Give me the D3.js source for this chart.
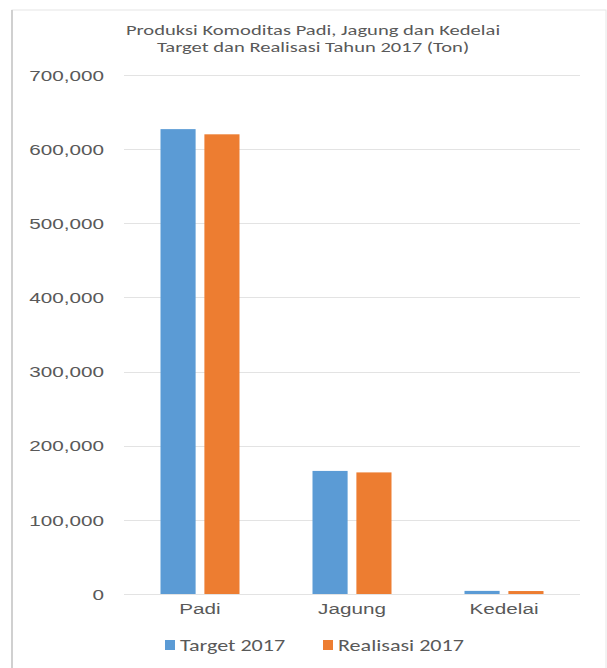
<!DOCTYPE html>
<html>
<head>
<meta charset="utf-8">
<script src="https://cdn.jsdelivr.net/npm/d3@7"></script>
<style>
  html, body { margin: 0; padding: 0; background: #fff; }
  svg { display: block; font-family: Carlito, Calibri, "Open Sans", sans-serif; }
</style>
</head>
<body>
<svg id="chart" width="607" height="668"></svg>
<script>
const categories = ["Padi", "Jagung", "Kedelai"];
const seriesNames = ["Target 2017", "Realisasi 2017"];
const targetValues = [627000, 166000, 4200];
const realisasiValues = [620000, 164000, 4000];
const yTicks = [0, 100000, 200000, 300000, 400000, 500000, 600000, 700000];
const titleLines = ["Produksi Komoditas Padi, Jagung dan Kedelai", "Target dan Realisasi Tahun 2017 (Ton)"];
const colors = ["#5b9bd5", "#ed7d31"];

const SX = 1.38; // horizontal stretch of text seen in the reference
const svg = d3.select("#chart");
const W = 607, H = 668;

// chart border
svg.append("rect").attr("x", 12).attr("y", 10).attr("width", W - 13).attr("height", H + 10)
  .attr("fill", "none").attr("stroke", "#e6e6e6").attr("stroke-width", 1);
svg.append("line").attr("x1", 12).attr("x2", 12).attr("y1", 10).attr("y2", H)
  .attr("stroke", "#d0d0d0").attr("stroke-width", 2);

const plot = { left: 124, right: 580, top: 75, bottom: 594 };

const x = d3.scaleBand().domain(categories).range([plot.left, plot.right]).paddingInner(0).paddingOuter(0);
const y = d3.scaleLinear().domain([0, 700000]).range([plot.bottom, plot.top]);
const inner = d3.scaleBand().domain(seriesNames).range([36.5, x.bandwidth() - 36.5]).paddingInner(0.2).paddingOuter(0);

// gridlines
svg.append("g").selectAll("line").data(yTicks).join("line")
  .attr("x1", plot.left).attr("x2", plot.right)
  .attr("y1", d => Math.round(y(d)) + 0.5).attr("y2", d => Math.round(y(d)) + 0.5)
  .attr("stroke", "#e3e3e3").attr("stroke-width", 1);

// y axis labels
const yAxis = d3.axisLeft(y).tickValues(yTicks).tickFormat(d3.format(",")).tickSize(0).tickPadding(0);
const ga = svg.append("g").attr("transform", `translate(104,0)`).call(yAxis);
ga.select(".domain").remove();
ga.selectAll(".tick").each(function() {
  const t = d3.select(this).select("text");
  t.attr("x", 0).attr("fill", "#595959").style("font-size", "15px").attr("dy", "0.35em")
   .attr("transform", `scale(${SX},1)`);
});

// bars
const data = categories.map((c, i) => ({ cat: c, vals: [targetValues[i], realisasiValues[i]] }));
const groups = svg.append("g").selectAll("g").data(data).join("g")
  .attr("transform", d => `translate(${x(d.cat)},0)`);
groups.selectAll("rect").data(d => d.vals.map((v, j) => ({ v, s: seriesNames[j], j })))
  .join("rect")
  .attr("x", d => inner(d.s))
  .attr("width", inner.bandwidth())
  .attr("y", d => y(d.v))
  .attr("height", d => y(0) - y(d.v))
  .attr("fill", d => colors[d.j]);

// x axis labels
const xAxis = d3.axisBottom(x).tickSize(0).tickPadding(0);
const gx = svg.append("g").attr("transform", `translate(0,${plot.bottom + 9})`).call(xAxis);
gx.select(".domain").remove();
gx.selectAll("text").attr("fill", "#595959").style("font-size", "15px").attr("dy", "0.71em")
  .attr("transform", `scale(${SX},1)`);

// title
svg.append("g").selectAll("text").data(titleLines).join("text")
  .attr("transform", (d, i) => `translate(313,${35 + i * 17}) scale(1.42,1)`)
  .attr("text-anchor", "middle").attr("fill", "#595959").style("font-size", "14.5px")
  .text(d => d);

// legend
const legendX = [165, 323];
const lg = svg.append("g").selectAll("g").data(seriesNames).join("g")
  .attr("transform", (d, i) => `translate(${legendX[i]},640)`);
lg.append("rect").attr("width", 10).attr("height", 10).attr("y", 0).attr("fill", (d, i) => colors[i]);
lg.append("text").attr("transform", `translate(15,11) scale(${SX},1)`)
  .attr("fill", "#595959").style("font-size", "16px")
  .text(d => d);
</script>
</body>
</html>
